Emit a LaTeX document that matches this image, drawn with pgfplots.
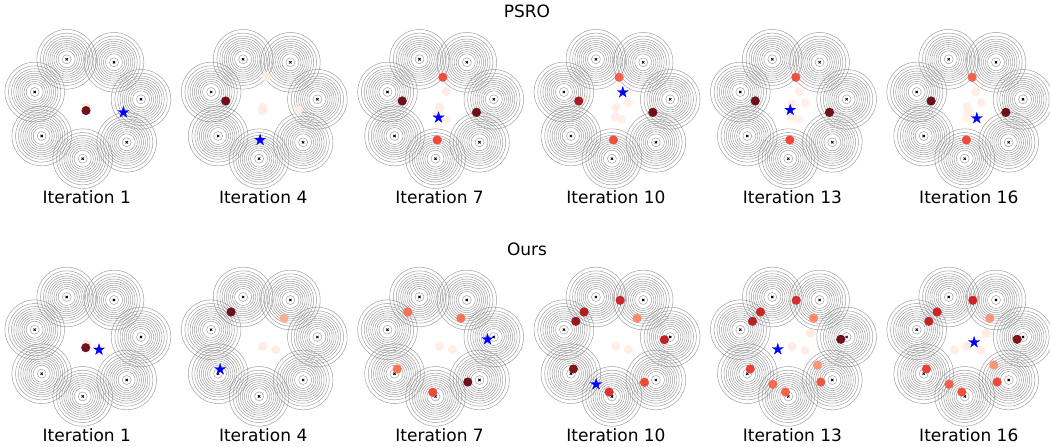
\documentclass[border=0pt]{standalone}
\usepackage{pgfplots}
\pgfplotsset{compat=1.18}
\usepackage{pgfplotstable}
\usepackage{fontspec}
\setmainfont{DejaVu Sans}

\definecolor{ringgray}{RGB}{120,120,120}
\pgfplotsset{colormap={reds}{rgb255=(255,245,240) rgb255=(254,224,210) rgb255=(252,187,161) rgb255=(252,146,114) rgb255=(251,106,74) rgb255=(239,59,44) rgb255=(203,24,29) rgb255=(165,15,21) rgb255=(103,0,13)}}

\pgfdeclareplotmark{fstar}{%
  \pgfpathmoveto{\pgfpointpolar{90}{\pgfplotmarksize}}%
  \pgfpathlineto{\pgfpointpolar{126}{0.382\pgfplotmarksize}}%
  \pgfpathlineto{\pgfpointpolar{162}{\pgfplotmarksize}}%
  \pgfpathlineto{\pgfpointpolar{198}{0.382\pgfplotmarksize}}%
  \pgfpathlineto{\pgfpointpolar{234}{\pgfplotmarksize}}%
  \pgfpathlineto{\pgfpointpolar{270}{0.382\pgfplotmarksize}}%
  \pgfpathlineto{\pgfpointpolar{306}{\pgfplotmarksize}}%
  \pgfpathlineto{\pgfpointpolar{342}{0.382\pgfplotmarksize}}%
  \pgfpathlineto{\pgfpointpolar{18}{\pgfplotmarksize}}%
  \pgfpathlineto{\pgfpointpolar{54}{0.382\pgfplotmarksize}}%
  \pgfpathclose
  \pgfusepathqfillstroke
}

\newcommand\labfont{\fontsize{17}{20}\selectfont}

% cluster centres (relative to panel centre, y up)
\pgfplotstableread{
x y
-20.1 47.8
27.2 44.8
54.2 7.8
39.9 -35.2
-4.1 -51.6
-45.1 -28.9
-52.1 15.1
}\centers

% ---- PSRO ----
\pgfplotstableread{
x y c
-0.5 -0.5 0.1
-0.8 -3.5 1.0
}\dA
\pgfplotstableread{
x y c
-0.5 -0.5 0.06
-0.5 -3.5 0.06
3.5 30.5 0.04
35.2 -2.9 0.04
-37.5 6.1 1.0
}\dB
\pgfplotstableread{
x y c
6.6 15.5 0.06
0 -0.2 0.06
-0.5 -3 0.04
6.6 -12.2 0.04
3.2 29.8 0.6
-37.4 6.1 1.0
36.9 -5.2 1.0
-2.4 -32.9 0.62
}\dC
\pgfplotstableread{
x y c
12.4 4.5 0.04
0 -0.2 0.05
-0.9 -9.5 0.04
5.8 -12.2 0.04
3.1 29.8 0.55
-37.2 6.1 0.88
36.8 -5.2 1.0
-2.6 -32.9 0.6
}\dD
\pgfplotstableread{
x y c
6.8 15.5 0.05
12.8 4.5 0.04
-0.6 3.1 0.05
-0.6 -9.5 0.04
6.1 -12.2 0.04
3.4 29.8 0.6
-37.2 6.1 1.0
37.1 -5.2 1.0
-2.6 -32.9 0.62
}\dE
\pgfplotstableread{
x y c
7 15.5 0.05
12.6 4.5 0.05
-2 0.5 0.04
-0.4 -4.5 0.04
-2 -10.2 0.03
3.3 29.8 0.55
-37.7 6.1 1.0
37 -5.2 1.0
-2.4 -32.9 0.62
}\dF
% ---- Ours ----
\pgfplotstableread{
x y c
-0.4 0.5 0.1
-1.1 -2.9 1.0
}\dG
\pgfplotstableread{
x y c
-0.5 -1.5 0.06
12.5 -4.9 0.06
20.9 26.5 0.3
-32.1 32.8 1.0
}\dH
\pgfplotstableread{
x y c
-0.4 -1.5 0.05
12.9 -4.9 0.05
-31.8 32.8 0.5
21.2 26.5 0.5
-42.4 -24.2 0.5
28.2 -37.2 1.0
-6.8 -47.5 0.62
}\dI
\pgfplotstableread{
x y c
-0.2 -1.5 0.05
12.4 -4.9 0.05
4.1 44.5 0.75
-31.9 32.8 0.85
-40.2 23.5 0.92
21.1 26.5 0.42
48.4 5.1 0.8
-42.6 -24.2 0.97
28.4 -37.5 0.62
-6.9 -47.2 0.7
}\dJ
\pgfplotstableread{
x y c
17.8 11.5 0.07
-0.2 -1.5 0.06
12.8 -5.5 0.05
3.8 44.5 0.72
-31.9 32.8 0.75
-39.9 23.5 0.82
21.1 26.5 0.42
48.4 5.5 1.0
-42.2 -24.2 0.65
25.1 -20.2 0.38
28.4 -37.2 0.58
-19.6 -39.5 0.52
-6.9 -47.2 0.55
}\dK
\pgfplotstableread{
x y c
17.6 11.5 0.07
-2 -1.5 0.06
-14.4 -4.9 0.05
12.3 -5.5 0.05
4 44.5 0.75
-31.7 32.8 0.75
-40 23.5 0.78
21 26.5 0.38
48.3 5.5 0.97
-42.4 -24.2 0.65
25 -20.2 0.38
28.3 -37.2 0.62
-19.7 -39.5 0.55
-7 -47.2 0.6
}\dL

\newcommand{\panel}[6]{%
\begin{axis}[at={(#1pt,#2pt)}, anchor=origin, x=1pt, y=1pt,
  xmin=-90, xmax=90, ymin=-90, ymax=90, hide axis, clip=false]
\pgfplotsinvokeforeach{4.5,8.5,10.7,12.8,14.8,16.8,18.8,21,23.3,26.2,29.8}{
  \addplot[only marks, mark=o, mark size=##1pt, mark options={draw=ringgray, line width=0.5pt, draw opacity=0.7}] table {\centers};
}
\addplot[only marks, mark=x, mark size=1.6pt, mark options={draw=black, line width=0.8pt}] table {\centers};
\addplot[scatter, only marks, mark=*, mark size=4.3pt, colormap name=reds,
  point meta min=0, point meta max=1, point meta=\thisrow{c},
  scatter/use mapped color={draw=mapped color, fill=mapped color, opacity=0.93}] table {#4};
\addplot[only marks, mark=fstar, mark size=5.8pt, mark options={draw=blue, fill=blue, line width=0.3pt}] coordinates {(#5,#6)};
\node[font=\labfont] at (axis cs:0,-90) {#3};
\end{axis}}

\begin{document}
\begin{tikzpicture}
\useasboundingbox (0,0) rectangle (1050pt,447pt);
\node[font=\labfont] at (527pt,435.5pt) {PSRO};
\node[font=\labfont] at (527pt,197.5pt) {Ours};
\panel{86.8}{339.9}{Iteration 1}{\dA}{36.6}{-5.2}
\panel{263.2}{339.9}{Iteration 4}{\dB}{-3.1}{-32.9}
\panel{439.6}{339.9}{Iteration 7}{\dC}{-1.1}{-10.5}
\panel{616.0}{339.9}{Iteration 10}{\dD}{6.8}{14.8}
\panel{792.4}{339.9}{Iteration 13}{\dE}{-2.2}{-2.9}
\panel{968.8}{339.9}{Iteration 16}{\dF}{8}{-11.2}
\panel{86.8}{102.2}{Iteration 1}{\dG}{12.2}{-4.9}
\panel{263.2}{102.2}{Iteration 4}{\dH}{-43.1}{-24.5}
\panel{439.6}{102.2}{Iteration 7}{\dI}{47.9}{5.5}
\panel{616.0}{102.2}{Iteration 10}{\dJ}{-19.9}{-39.5}
\panel{792.4}{102.2}{Iteration 13}{\dK}{-14.6}{-4.5}
\panel{968.8}{102.2}{Iteration 16}{\dL}{5.3}{2.5}
\end{tikzpicture}
\end{document}
